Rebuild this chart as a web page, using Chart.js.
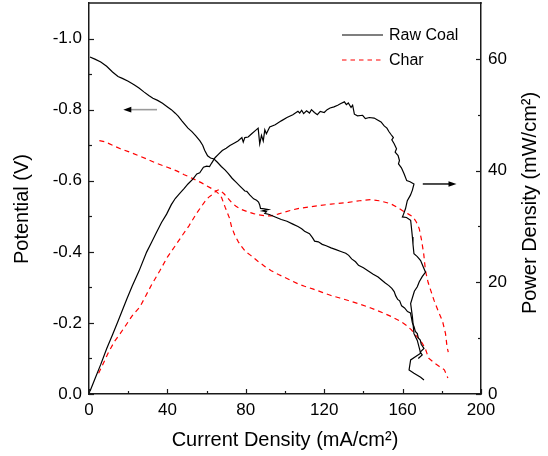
<!DOCTYPE html>
<html>
<head>
<meta charset="utf-8">
<script src="https://cdn.jsdelivr.net/npm/chart.js@4/dist/chart.umd.min.js"></script>
<style>
html,body{margin:0;padding:0;background:#fff;}
#wrap{width:548px;height:456px;position:relative;}
</style>
</head>
<body>
<div id="wrap"><canvas id="c" width="548" height="456"></canvas></div>
<script>
// ---------- DATA ----------
const seriesNames = ["Raw Coal", "Char"];

// Raw coal: potential (V) vs current density (mA/cm2)
const rawPotX = [0.5,3,6,9,12,14.8,17,20,23,25.5,28,30.5,32.6,35,37.5,39.7,42,44,45.5,47.5,49,50.5,52.5,54.5,56.6,58,59,60.5,62,63.8,65.5,67.5,69.5,71.1,73,75,77,79.5,80.5,82,84,85.5,86.5,87.1,87.5,89.5,91.5,88.5,90.5,89.7,92,95,98.1,101,104,106.6,108.5,110,112.5,114,115.1,117,119,121,123.5,126,128.5,131,132.5,134,136,137.5,140,142.5,145,147.5,149,151,153,154.5,155.7,156.5,157.5,158.5,159.5,161,162.5,164,164.5,165,165.8,166.5,167.5,168,169,169.5,170.9,169,170,168];
const rawPotY = [-0.948,-0.942,-0.934,-0.922,-0.906,-0.893,-0.888,-0.880,-0.870,-0.861,-0.850,-0.840,-0.832,-0.826,-0.818,-0.809,-0.800,-0.790,-0.782,-0.768,-0.758,-0.748,-0.738,-0.726,-0.712,-0.700,-0.686,-0.670,-0.664,-0.661,-0.652,-0.640,-0.630,-0.620,-0.607,-0.596,-0.585,-0.571,-0.570,-0.560,-0.549,-0.545,-0.540,-0.532,-0.522,-0.521,-0.519,-0.515,-0.513,-0.508,-0.505,-0.498,-0.491,-0.486,-0.478,-0.471,-0.465,-0.458,-0.451,-0.440,-0.430,-0.428,-0.421,-0.417,-0.411,-0.406,-0.401,-0.396,-0.390,-0.380,-0.372,-0.362,-0.355,-0.346,-0.337,-0.329,-0.322,-0.313,-0.305,-0.297,-0.288,-0.276,-0.266,-0.262,-0.248,-0.242,-0.232,-0.228,-0.215,-0.200,-0.190,-0.176,-0.170,-0.158,-0.152,-0.140,-0.128,-0.118,-0.110,-0.100];

// Raw coal: power density (mW/cm2) vs current density
const rawPowX = [0.5,3,6,9.1,12,15,19.3,22,25.5,29.4,32,34.4,37,39.6,42,44,46.3,48.6,50.5,53.1,55,56.5,58.4,60,61.5,62.5,64.3,66,68,70,71.9,74,76,78,78.7,79.5,81.2,83,85,86.3,87.1,88,88.9,89.7,90.5,92.2,95,98.1,101,104,106.6,107.5,108.5,109.5,111,112.5,113.5,115,116.5,118,120,121.5,123,125,126.9,128.5,130.3,131.3,132.3,133.7,134.5,135.4,137,139.6,141,143,145.5,147,149,150.6,152,153,154,155.3,154.5,155.7,156.9,156.2,157.7,158.4,157.9,159.4,160.8,162.1,163.8,165.8,165,164,162.4,161.5,160.5,159.9,162,164.1,164.5,165,165.3,165.8,167.5,169.2,170.5,171.7,170,168.5,167.5,166,164.1,165,165.8,167.5,169.2,166.7,164.1,163.3,165.8,169.2,170.9];
const rawPowY = [0.5,2.7,5.3,8.2,10.6,13.2,17.0,19.3,22.0,25.4,27.2,28.9,30.7,32.2,33.9,35.0,35.9,36.8,37.6,38.5,39.4,39.6,40.6,40.8,40.7,41.3,42.3,42.9,43.6,44.0,44.5,44.9,45.3,45.9,45.1,45.9,46.0,46.6,47.2,47.6,44.8,46.3,45.3,47.3,46.6,47.8,48.2,48.9,49.5,50.0,50.6,50.3,50.8,50.2,50.7,50.3,50.9,50.4,50.0,50.6,50.4,50.9,51.2,51.4,51.7,52.0,52.3,51.8,52.1,51.3,51.7,50.1,49.8,49.9,49.3,49.5,49.4,49.1,48.7,48.0,47.6,47.0,46.5,45.9,45.5,44.8,43.9,43.3,42.7,41.8,41.2,40.5,39.4,38.2,38.0,37.6,36.5,35.6,34.6,33.2,32.2,31.7,31.6,31.1,29.8,28.1,26.8,25.1,24.6,23.9,22.8,21.8,21.0,20.1,19.2,18.4,16.2,13.8,10.8,9.6,7.3,6.7,6.1,4.3,3.7,3.0,2.5];

// Char: potential (V) vs current density
const charPotX = [5.3,8,12,16,20.1,25,30,34.4,40,45,48.6,53,57.5,60,63.2,64.8,66.5,67.7,69.5,71.8,72.7,74.5,76.2,77.8,80,82.5,86,89.7,93,96.7,101,106.6,110,114.5,119,123.5,128,132.3,137,143.8,150.1,155,159,162,164.4,166,168,170,171.5,172.5,173.3,176,178.6,181.3,183.1];
const charPotY = [-0.713,-0.710,-0.700,-0.690,-0.682,-0.671,-0.660,-0.649,-0.638,-0.627,-0.617,-0.606,-0.594,-0.586,-0.576,-0.570,-0.562,-0.552,-0.525,-0.493,-0.471,-0.445,-0.428,-0.415,-0.400,-0.390,-0.374,-0.359,-0.347,-0.336,-0.325,-0.310,-0.303,-0.295,-0.286,-0.277,-0.270,-0.263,-0.255,-0.242,-0.228,-0.216,-0.204,-0.193,-0.181,-0.170,-0.157,-0.143,-0.129,-0.113,-0.101,-0.088,-0.078,-0.068,-0.045];

// Char: power density vs current density
const charPowX = [4.9,8,10,13,15.9,19,22,26,29,32,36.2,40,44.7,48,51,54.8,57,59,61,63.3,65,66.5,67.5,69,70.5,72.7,75,78,81.2,84,86.3,89.6,93,96.4,100,106.6,114.5,123.5,132.3,138,143.8,148,153.7,157.4,160,163,165.3,167,168.5,169.7,170.8,171.7,173,176,178,180.4,181.9,182.7,183.3];
const charPowY = [3.7,6,7.5,9.4,10.8,12.4,14,15.6,17.6,19.6,22.1,24.5,26.9,28.6,30.1,32.3,33.4,34.4,35.2,35.8,36.4,36.6,36.3,35.8,35.2,34.3,33.6,33.0,32.6,32.3,32.1,31.9,31.9,32.2,32.6,33.2,33.6,34.0,34.3,34.6,34.8,34.6,34.1,33.4,32.8,32.2,31.7,30.8,29.6,27.5,25.0,22.0,20.0,16.8,15.0,13.0,10.8,8.4,7.5];

// Tick values
const xTicks = [0,40,80,120,160,200];
const xMinorTicks = [20,60,100,140,180];
const leftTicks = [0,-0.2,-0.4,-0.6,-0.8,-1.0];
const leftMinorTicks = [-0.1,-0.3,-0.5,-0.7,-0.9];
const rightTicks = [0,20,40,60];
const rightMinorTicks = [10,30,50];

// Annotation arrows (data units): [tail, tip]
const potentialArrowX = [34.7, 17.5];
const potentialArrowY = -0.8;
const powerArrowX = [170.3, 187.5];
const powerArrowY = 37.6;

// ---------- CHART ----------
const FONT = '"Liberation Sans", Arial, sans-serif';
const pts = (xs, ys) => xs.map((x, i) => ({x: x, y: ys[i]}));

const decor = {
  id: 'decor',
  afterDraw(chart) {
    const {ctx, chartArea: a, scales} = chart;
    const x = scales.x, y = scales.y, y1 = scales.y1;
    ctx.save();
    ctx.strokeStyle = '#1a1a1a';
    ctx.lineWidth = 1.5;
    ctx.beginPath(); ctx.moveTo(a.left - 0.75, a.top); ctx.lineTo(a.right + 0.75, a.top); ctx.stroke();

    ctx.lineWidth = 1.2;
    const seg = (x1, y1_, x2, y2) => { ctx.beginPath(); ctx.moveTo(x1, y1_); ctx.lineTo(x2, y2); ctx.stroke(); };
    xTicks.forEach(v => { const p = Math.round(x.getPixelForValue(v)) + 0.5; seg(p, a.bottom, p, a.bottom - 5); });
    xMinorTicks.forEach(v => { const p = Math.round(x.getPixelForValue(v)) + 0.5; seg(p, a.bottom, p, a.bottom - 3); });
    leftTicks.forEach(v => { const p = Math.round(y.getPixelForValue(v)) + 0.5; seg(a.left, p, a.left + 5, p); });
    leftMinorTicks.forEach(v => { const p = Math.round(y.getPixelForValue(v)) + 0.5; seg(a.left, p, a.left + 3, p); });
    rightTicks.forEach(v => { const p = Math.round(y1.getPixelForValue(v)) + 0.5; seg(a.right, p, a.right - 5, p); });
    rightMinorTicks.forEach(v => { const p = Math.round(y1.getPixelForValue(v)) + 0.5; seg(a.right, p, a.right - 3, p); });

    // arrows
    const arrow = (xs, yv, yScale, lineColor) => {
      const px0 = x.getPixelForValue(xs[0]), px1 = x.getPixelForValue(xs[1]);
      const py = yScale.getPixelForValue(yv);
      const dir = Math.sign(px1 - px0);
      ctx.strokeStyle = lineColor; ctx.lineWidth = 1.6;
      seg(px0, py, px1 - dir * 6, py);
      ctx.fillStyle = '#000';
      ctx.beginPath();
      ctx.moveTo(px1, py);
      ctx.lineTo(px1 - dir * 8, py - 2.8);
      ctx.lineTo(px1 - dir * 8, py + 2.8);
      ctx.closePath(); ctx.fill();
    };
    arrow(potentialArrowX, potentialArrowY, y, '#9a9a9a');
    arrow(powerArrowX, powerArrowY, y1, '#222');

    // legend
    ctx.lineWidth = 1.2;
    ctx.strokeStyle = '#000'; ctx.setLineDash([]);
    seg(342, 35, 383, 35);
    ctx.strokeStyle = '#ff0000'; ctx.setLineDash([4.5, 4]);
    seg(342, 60, 383, 60);
    ctx.setLineDash([]);
    ctx.fillStyle = '#000';
    ctx.font = '16px ' + FONT;
    ctx.textAlign = 'left'; ctx.textBaseline = 'middle';
    ctx.fillText(seriesNames[0], 389, 36);
    ctx.fillText(seriesNames[1], 389, 61);

    // axis titles
    ctx.font = '20px ' + FONT;
    ctx.textAlign = 'center'; ctx.textBaseline = 'middle';
    ctx.fillText('Current Density (mA/cm\u00B2)', (a.left + a.right) / 2, 440);
    ctx.save(); ctx.translate(22, 209); ctx.rotate(-Math.PI / 2);
    ctx.fillText('Potential (V)', 0, 0); ctx.restore();
    ctx.save(); ctx.translate(530, 203); ctx.rotate(-Math.PI / 2);
    ctx.fillText('Power Density (mW/cm\u00B2)', 0, 0); ctx.restore();
    ctx.restore();
  }
};

const tickFont = {family: FONT, size: 17};
const setTicks = arr => (s) => { s.ticks = arr.map(v => ({value: v})); };
const noPad = s => { s.paddingTop = 0; s.paddingBottom = 0; s.paddingLeft = 0; s.paddingRight = 0; };

new Chart(document.getElementById('c'), {
  type: 'scatter',
  data: {
    datasets: [
      {label: seriesNames[0] + ' potential', data: pts(rawPotX, rawPotY), yAxisID: 'y',
       showLine: true, borderColor: '#000', borderWidth: 1.2, pointRadius: 0, tension: 0, fill: false},
      {label: seriesNames[0] + ' power', data: pts(rawPowX, rawPowY), yAxisID: 'y1',
       showLine: true, borderColor: '#000', borderWidth: 1.2, pointRadius: 0, tension: 0, fill: false},
      {label: seriesNames[1] + ' potential', data: pts(charPotX, charPotY), yAxisID: 'y',
       showLine: true, borderColor: '#ff0000', borderWidth: 1.2, borderDash: [5, 4], pointRadius: 0, tension: 0, fill: false},
      {label: seriesNames[1] + ' power', data: pts(charPowX, charPowY), yAxisID: 'y1',
       showLine: true, borderColor: '#ff0000', borderWidth: 1.2, borderDash: [5, 4], pointRadius: 0, tension: 0, fill: false}
    ]
  },
  options: {
    responsive: false,
    animation: false,
    devicePixelRatio: 1,
    events: [],
    layout: {padding: {top: 3, left: 0, right: 0, bottom: 0}},
    plugins: {legend: {display: false}, tooltip: {enabled: false}},
    scales: {
      x: {
        type: 'linear', position: 'bottom', min: 0, max: 200,
        afterBuildTicks: setTicks(xTicks),
        afterFit: s => { s.height = 62; noPad(s); },
        grid: {display: false, drawTicks: false},
        border: {display: true, color: '#1a1a1a', width: 1.5},
        ticks: {padding: 6, font: tickFont, color: '#000', maxRotation: 0, autoSkip: false}
      },
      y: {
        type: 'linear', position: 'left', min: -1.1, max: 0, reverse: true,
        afterBuildTicks: setTicks(leftTicks),
        afterFit: s => { s.width = 89; noPad(s); },
        grid: {display: false, drawTicks: false},
        border: {display: true, color: '#1a1a1a', width: 1.5},
        ticks: {padding: 7, font: tickFont, color: '#000', autoSkip: false,
                callback: v => (Math.abs(v) < 1e-9 ? '0.0' : Number(v).toFixed(1))}
      },
      y1: {
        type: 'linear', position: 'right', min: 0, max: 70,
        afterBuildTicks: setTicks(rightTicks),
        afterFit: s => { s.width = 67; noPad(s); },
        grid: {display: false, drawTicks: false},
        border: {display: true, color: '#1a1a1a', width: 1.5},
        ticks: {padding: 7, font: tickFont, color: '#000', autoSkip: false}
      }
    }
  },
  plugins: [decor]
});
</script>
</body>
</html>
